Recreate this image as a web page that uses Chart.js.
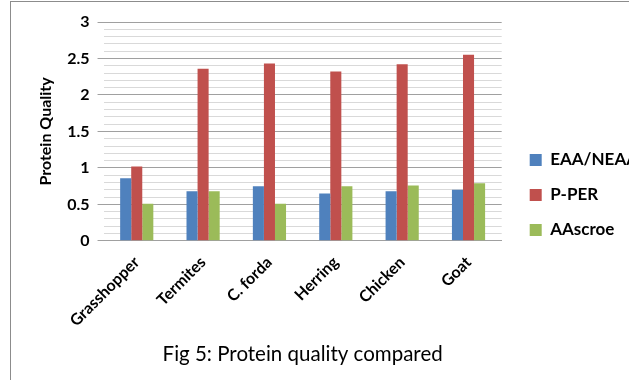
<!DOCTYPE html>
<html>
<head>
<meta charset="utf-8">
<script src="https://cdn.jsdelivr.net/npm/chart.js@4/dist/chart.umd.min.js"></script>
<style>
html,body{margin:0;padding:0;background:#fff;overflow:hidden;width:629px;height:380px;}
#wrap{position:absolute;left:0;top:0;width:648px;height:380px;}
#frame{position:absolute;left:10px;top:1px;width:700px;height:400px;border-left:1px solid #8c8c8c;border-top:1px solid #8c8c8c;pointer-events:none;}
</style>
</head>
<body>
<div id="wrap"><canvas id="c" width="648" height="380"></canvas></div>
<div id="frame"></div>
<script>
const categories = ["Grasshopper", "Termites", "C. forda", "Herring", "Chicken", "Goat"];
const eaaNeaa = [0.86, 0.68, 0.75, 0.65, 0.68, 0.70];
const pPer = [1.02, 2.36, 2.43, 2.32, 2.42, 2.55];
const aaScore = [0.51, 0.68, 0.51, 0.75, 0.76, 0.79];
const seriesNames = ["EAA/NEAA", "P-PER", "AAscroe"];
const yTickLabels = ["0", "0.5", "1", "1.5", "2", "2.5", "3"];
const captionText = "Fig 5: Protein quality compared";

const FONT = "Lato, 'Open Sans', sans-serif";
const LEGEND_GAP = 10;

function isMajor(v) {
  return Math.abs(v * 2 - Math.round(v * 2)) < 1e-6;
}

// widen the gap between plot area and legend (Excel-like spacing)
const legendGapPlugin = {
  id: 'legendGap',
  beforeLayout(chart) {
    const lg = chart.legend;
    if (lg && !lg._gapPatched) {
      const origFit = lg.fit;
      lg.fit = function () { origFit.call(this); this.width += LEGEND_GAP; };
      lg._gapPatched = true;
    }
  },
  afterLayout(chart) {
    const lg = chart.legend;
    if (lg) { lg.left += LEGEND_GAP; }
  }
};

new Chart(document.getElementById('c'), {
  type: 'bar',
  data: {
    labels: categories,
    datasets: [
      { label: seriesNames[0], data: eaaNeaa, backgroundColor: '#4F81BD' },
      { label: seriesNames[1], data: pPer, backgroundColor: '#C0504D' },
      { label: seriesNames[2], data: aaScore, backgroundColor: '#9BBB59' }
    ]
  },
  options: {
    responsive: false,
    animation: false,
    devicePixelRatio: 1,
    layout: { padding: { left: 32, top: 22, right: 0, bottom: 12 } },
    datasets: { bar: { categoryPercentage: 0.5, barPercentage: 1.0 } },
    plugins: {
      legend: {
        position: 'right',
        align: 'center',
        labels: {
          boxWidth: 12, boxHeight: 12, padding: 18,
          color: '#000',
          font: { family: FONT, size: 17, weight: 'bold' }
        }
      },
      tooltip: { enabled: false },
      title: { display: false }
    },
    scales: {
      x: {
        grid: { display: false, drawTicks: false },
        border: { color: '#a0a0a0' },
        ticks: {
          color: '#000', minRotation: 45, maxRotation: 45, padding: 12,
          font: { family: FONT, size: 16, weight: 'bold' }
        },
        title: {
          display: true, text: captionText, color: '#000',
          padding: { top: 0, bottom: 1 },
          font: { family: FONT, size: 20.5, weight: 'normal' }
        }
      },
      y: {
        min: 0, max: 3,
        border: { display: false },
        grid: {
          color: ctx => isMajor(ctx.tick.value) ? '#a0a0a0' : '#d9d9d9',
          tickLength: 6,
          tickColor: ctx => isMajor(ctx.tick.value) ? '#a0a0a0' : 'rgba(0,0,0,0)'
        },
        ticks: {
          stepSize: 0.1, autoSkip: false, padding: 8, color: '#000',
          font: { family: FONT, size: 16, weight: 'bold' },
          callback: function(v) {
            if (!isMajor(v)) return '';
            return yTickLabels[Math.round(v * 2)];
          }
        },
        title: {
          display: true, text: 'Protein Quality', color: '#000', padding: 4,
          font: { family: FONT, size: 16, weight: 'bold' }
        }
      }
    }
  },
  plugins: [legendGapPlugin]
});
</script>
</body>
</html>
